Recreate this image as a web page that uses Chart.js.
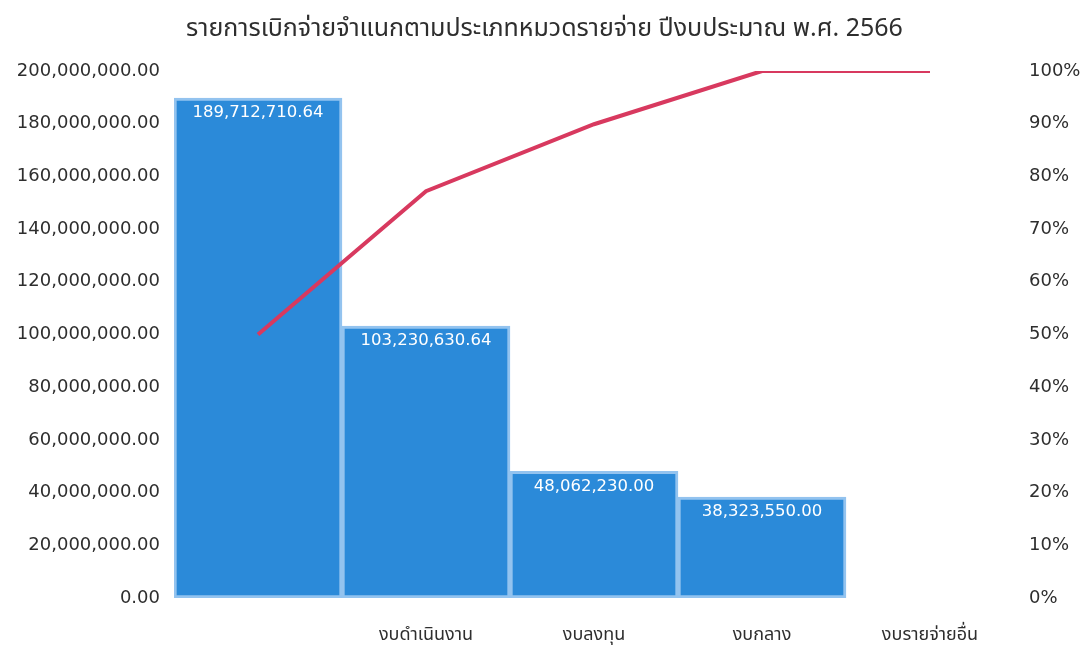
<!DOCTYPE html>
<html lang="th">
<head>
<meta charset="utf-8">
<title>รายการเบิกจ่ายจำแนกตามประเภทหมวดรายจ่าย</title>
<script src="https://cdn.jsdelivr.net/npm/chart.js@4/dist/chart.umd.min.js"></script>
<style>
  html, body { margin: 0; padding: 0; background: #ffffff; }
  #chart-box { width: 1089px; height: 647px; }
</style>
</head>
<body>
<div id="chart-box"><canvas id="pareto-chart"></canvas></div>
<script>
/**
 * Pareto chart of FY2566 disbursements by expense category
 * Bars = amount (left axis), line = cumulative share (right axis)
 */

// Data
const categories = ["", "งบดำเนินงาน", "งบลงทุน", "งบกลาง", "งบรายจ่ายอื่น"]
const amounts = [189712710.64, 103230630.64, 48062230.0, 38323550.0, 0]
const cumulativePercent = [50.0, 77.2, 89.9, 100, 100]
const amountTicks = [0, 20000000, 40000000, 60000000, 80000000, 100000000, 120000000, 140000000, 160000000, 180000000, 200000000]
const percentTicks = [0, 10, 20, 30, 40, 50, 60, 70, 80, 90, 100]

const chartTitle = "รายการเบิกจ่ายจำแนกตามประเภทหมวดรายจ่าย ปีงบประมาณ พ.ศ. 2566"

// Look
const barColor = "#2b8ad9"
const barEdge = "#93c3ef"
const lineColor = "#d8395f"
const textColor = "#2e2e2e"
const tickFont = { family: "'DejaVu Sans', Verdana, sans-serif", size: 18 }
const thaiFont = "'Noto Sans Thai', 'Loma', 'Garuda', 'Tahoma', 'DejaVu Sans', sans-serif"

/**
 * Formats a number like 20,000,000.00
 * @param {number} value
 * @returns {string}
 */
function formatAmount(value) {
  return Number(value).toLocaleString("en-US", { minimumFractionDigits: 2, maximumFractionDigits: 2 })
}

// Writes the amount in white near the top of each non-zero bar
const barValueLabels = {
  id: "barValueLabels",
  afterDatasetsDraw(chart) {
    const meta = chart.getDatasetMeta(1)
    const ctx = chart.ctx
    ctx.save()
    ctx.fillStyle = "#ffffff"
    ctx.font = "16.5px 'DejaVu Sans', Verdana, sans-serif"
    ctx.textAlign = "center"
    ctx.textBaseline = "middle"
    meta.data.forEach((bar, i) => {
      if (!amounts[i]) return
      ctx.fillText(formatAmount(amounts[i]), bar.x, bar.y + 15)
    })
    ctx.restore()
  },
}

/**
 * Builds the combined bar + line chart
 */
function initChart() {
  const ctx = document.getElementById("pareto-chart").getContext("2d")

  new Chart(ctx, {
    data: {
      labels: categories,
      datasets: [
        {
          type: "line",
          label: "สะสม (%)",
          data: cumulativePercent,
          yAxisID: "yPercent",
          borderColor: lineColor,
          borderWidth: 4,
          pointRadius: 0,
          tension: 0,
          fill: false,
          order: 0,
        },
        {
          type: "bar",
          label: "จำนวนเงิน",
          data: amounts,
          yAxisID: "yAmount",
          // empty bars get no paint at all, so no hairline at the base
          backgroundColor: (c) => (amounts[c.dataIndex] ? barColor : "rgba(0,0,0,0)"),
          borderColor: barEdge,
          borderWidth: (c) => (amounts[c.dataIndex] ? 3 : 0),
          borderSkipped: false,
          barPercentage: 1,
          categoryPercentage: 1,
          order: 1,
        },
      ],
    },
    options: {
      responsive: true,
      maintainAspectRatio: false,
      animation: false,
      layout: { padding: { left: 0, right: 0, top: 0, bottom: 0 } },
      plugins: {
        legend: { display: false },
        tooltip: { enabled: false },
        title: {
          display: true,
          text: chartTitle,
          color: textColor,
          font: { family: thaiFont, size: 25, weight: "normal" },
          padding: { top: 16, bottom: 25 },
        },
      },
      scales: {
        x: {
          grid: { display: false, drawTicks: false },
          border: { display: false },
          ticks: {
            color: textColor,
            font: { family: thaiFont, size: 18 },
            padding: 28,
            maxRotation: 0,
          },
          afterFit(scale) {
            scale.height = 49
          },
        },
        yAmount: {
          position: "left",
          min: 0,
          max: 200000000,
          grid: { display: false, drawTicks: false },
          border: { display: false },
          afterBuildTicks(scale) {
            scale.ticks = amountTicks.map((v) => ({ value: v }))
          },
          ticks: {
            color: textColor,
            font: tickFont,
            padding: 14,
            callback: (v) => formatAmount(v),
          },
          afterFit(scale) {
            scale.width = 174
          },
        },
        yPercent: {
          position: "right",
          min: 0,
          max: 100,
          grid: { display: false, drawTicks: false },
          border: { display: false },
          afterBuildTicks(scale) {
            scale.ticks = percentTicks.map((v) => ({ value: v }))
          },
          ticks: {
            color: textColor,
            font: tickFont,
            padding: 15,
            callback: (v) => v + "%",
          },
          afterFit(scale) {
            scale.width = 75
          },
        },
      },
    },
    plugins: [barValueLabels],
  })
}

initChart()
</script>
</body>
</html>
